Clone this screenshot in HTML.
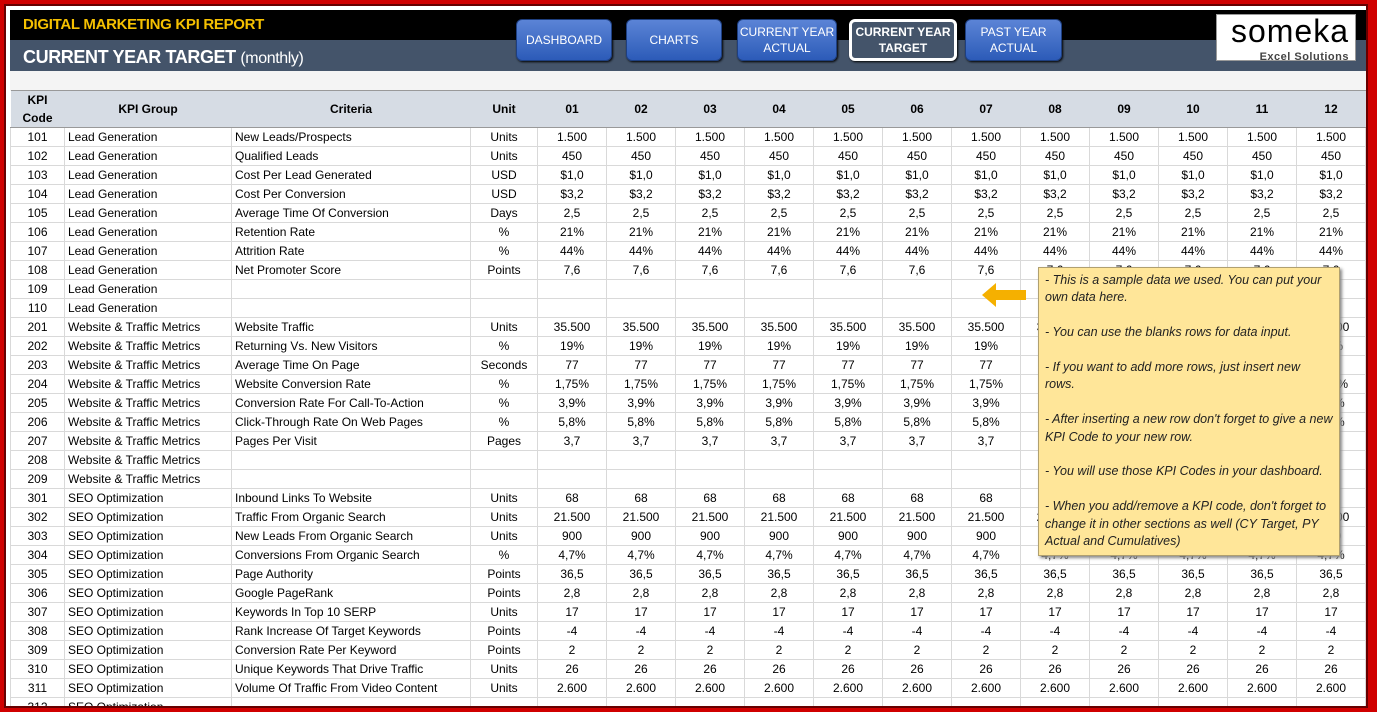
<!DOCTYPE html>
<html><head><meta charset="utf-8"><style>
*{margin:0;padding:0;box-sizing:border-box}
body{width:1377px;height:712px;overflow:hidden;background:#d00000;font-family:"Liberation Sans",sans-serif;position:relative}
#frame{position:absolute;left:4px;top:4px;width:1364px;height:704px;background:#fff;border:2px solid #600;overflow:hidden}
#blk{position:absolute;left:4px;top:4px;width:1356px;height:30px;background:#000}
#sl{position:absolute;left:4px;top:34px;width:1356px;height:31px;background:#44546a}
#t1{position:absolute;left:17px;top:10px;color:#f5c000;font-weight:bold;font-size:15px;letter-spacing:-0.3px}
#t2{position:absolute;left:17px;top:41px;color:#fff;font-weight:bold;font-size:18px;letter-spacing:-0.4px}
#t2 span{font-weight:normal;font-size:16px}
.btn{position:absolute;top:13px;height:42px;border-radius:6px;background:linear-gradient(#5b84d6,#2c5bb8);border:1px solid #1e3f80;color:#fff;font-size:12px;display:flex;align-items:center;justify-content:center;text-align:center;line-height:16px;box-shadow:1px 1px 2px #000}
#logo{position:absolute;left:1210px;top:8px;width:140px;height:47px;background:#fff;border:1px solid #999;text-align:right;padding-right:6px}
#logo b{display:block;font-size:32px;line-height:32px;font-weight:normal;letter-spacing:1px;color:#000}
#logo i{font-style:normal;font-weight:bold;font-size:11px;color:#444;letter-spacing:0.5px}
#gray{position:absolute;left:4px;top:65px;width:1356px;height:20px;background:#f4f4f4}
table{position:absolute;left:4px;top:84px;border-collapse:collapse;table-layout:fixed;font-size:12px;color:#000}
th{background:#d6dce4;height:37px;font-weight:bold;border-top:1px solid #999;border-bottom:1px solid #999;line-height:18px}
td{height:19px;border:1px solid #d9d9d9;white-space:nowrap;overflow:hidden;padding:0 3px;text-align:center;line-height:17px}
td.l{text-align:left}
#note{position:absolute;left:1032px;top:261px;width:302px;height:289px;background:#ffe699;border:1px solid #b0a070;box-shadow:2px 2px 3px #888;font-style:italic;font-size:12.5px;color:#222;padding:4px 6px;line-height:17.4px}
#arrow{position:absolute;left:974px;top:276px}
</style></head><body><div id="frame">
<div id="blk"></div><div id="sl"></div>
<div id="t1">DIGITAL MARKETING KPI REPORT</div>
<div id="t2">CURRENT YEAR TARGET <span>(monthly)</span></div>
<div class="btn" style="left:510px;width:96px">DASHBOARD</div>
<div class="btn" style="left:620px;width:96px">CHARTS</div>
<div class="btn" style="left:731px;width:100px">CURRENT YEAR<br>ACTUAL</div>
<div class="btn" style="left:843px;width:108px;background:#44546a;border:3px solid #fff;font-weight:bold">CURRENT YEAR<br>TARGET</div>
<div class="btn" style="left:959px;width:97px">PAST YEAR<br>ACTUAL</div>
<div id="logo"><b>someka</b><i>Excel Solutions</i></div>
<div id="gray"></div>
<table>
<colgroup><col style="width:54px"><col style="width:167px"><col style="width:239px"><col style="width:67px"><col span="12" style="width:69px"></colgroup>
<tr><th>KPI<br>Code</th><th>KPI Group</th><th>Criteria</th><th>Unit</th><th>01</th><th>02</th><th>03</th><th>04</th><th>05</th><th>06</th><th>07</th><th>08</th><th>09</th><th>10</th><th>11</th><th>12</th></tr>
<tr><td>101</td><td class="l">Lead Generation</td><td class="l">New Leads/Prospects</td><td>Units</td><td>1.500</td><td>1.500</td><td>1.500</td><td>1.500</td><td>1.500</td><td>1.500</td><td>1.500</td><td>1.500</td><td>1.500</td><td>1.500</td><td>1.500</td><td>1.500</td></tr>
<tr><td>102</td><td class="l">Lead Generation</td><td class="l">Qualified Leads</td><td>Units</td><td>450</td><td>450</td><td>450</td><td>450</td><td>450</td><td>450</td><td>450</td><td>450</td><td>450</td><td>450</td><td>450</td><td>450</td></tr>
<tr><td>103</td><td class="l">Lead Generation</td><td class="l">Cost Per Lead Generated</td><td>USD</td><td>$1,0</td><td>$1,0</td><td>$1,0</td><td>$1,0</td><td>$1,0</td><td>$1,0</td><td>$1,0</td><td>$1,0</td><td>$1,0</td><td>$1,0</td><td>$1,0</td><td>$1,0</td></tr>
<tr><td>104</td><td class="l">Lead Generation</td><td class="l">Cost Per Conversion</td><td>USD</td><td>$3,2</td><td>$3,2</td><td>$3,2</td><td>$3,2</td><td>$3,2</td><td>$3,2</td><td>$3,2</td><td>$3,2</td><td>$3,2</td><td>$3,2</td><td>$3,2</td><td>$3,2</td></tr>
<tr><td>105</td><td class="l">Lead Generation</td><td class="l">Average Time Of Conversion</td><td>Days</td><td>2,5</td><td>2,5</td><td>2,5</td><td>2,5</td><td>2,5</td><td>2,5</td><td>2,5</td><td>2,5</td><td>2,5</td><td>2,5</td><td>2,5</td><td>2,5</td></tr>
<tr><td>106</td><td class="l">Lead Generation</td><td class="l">Retention Rate</td><td>%</td><td>21%</td><td>21%</td><td>21%</td><td>21%</td><td>21%</td><td>21%</td><td>21%</td><td>21%</td><td>21%</td><td>21%</td><td>21%</td><td>21%</td></tr>
<tr><td>107</td><td class="l">Lead Generation</td><td class="l">Attrition Rate</td><td>%</td><td>44%</td><td>44%</td><td>44%</td><td>44%</td><td>44%</td><td>44%</td><td>44%</td><td>44%</td><td>44%</td><td>44%</td><td>44%</td><td>44%</td></tr>
<tr><td>108</td><td class="l">Lead Generation</td><td class="l">Net Promoter Score</td><td>Points</td><td>7,6</td><td>7,6</td><td>7,6</td><td>7,6</td><td>7,6</td><td>7,6</td><td>7,6</td><td>7,6</td><td>7,6</td><td>7,6</td><td>7,6</td><td>7,6</td></tr>
<tr><td>109</td><td class="l">Lead Generation</td><td></td><td></td><td></td><td></td><td></td><td></td><td></td><td></td><td></td><td></td><td></td><td></td><td></td><td></td></tr>
<tr><td>110</td><td class="l">Lead Generation</td><td></td><td></td><td></td><td></td><td></td><td></td><td></td><td></td><td></td><td></td><td></td><td></td><td></td><td></td></tr>
<tr><td>201</td><td class="l">Website &amp; Traffic Metrics</td><td class="l">Website Traffic</td><td>Units</td><td>35.500</td><td>35.500</td><td>35.500</td><td>35.500</td><td>35.500</td><td>35.500</td><td>35.500</td><td>35.500</td><td>35.500</td><td>35.500</td><td>35.500</td><td>35.500</td></tr>
<tr><td>202</td><td class="l">Website &amp; Traffic Metrics</td><td class="l">Returning Vs. New Visitors</td><td>%</td><td>19%</td><td>19%</td><td>19%</td><td>19%</td><td>19%</td><td>19%</td><td>19%</td><td>19%</td><td>19%</td><td>19%</td><td>19%</td><td>19%</td></tr>
<tr><td>203</td><td class="l">Website &amp; Traffic Metrics</td><td class="l">Average Time On Page</td><td>Seconds</td><td>77</td><td>77</td><td>77</td><td>77</td><td>77</td><td>77</td><td>77</td><td>77</td><td>77</td><td>77</td><td>77</td><td>77</td></tr>
<tr><td>204</td><td class="l">Website &amp; Traffic Metrics</td><td class="l">Website Conversion Rate</td><td>%</td><td>1,75%</td><td>1,75%</td><td>1,75%</td><td>1,75%</td><td>1,75%</td><td>1,75%</td><td>1,75%</td><td>1,75%</td><td>1,75%</td><td>1,75%</td><td>1,75%</td><td>1,75%</td></tr>
<tr><td>205</td><td class="l">Website &amp; Traffic Metrics</td><td class="l">Conversion Rate For Call-To-Action</td><td>%</td><td>3,9%</td><td>3,9%</td><td>3,9%</td><td>3,9%</td><td>3,9%</td><td>3,9%</td><td>3,9%</td><td>3,9%</td><td>3,9%</td><td>3,9%</td><td>3,9%</td><td>3,9%</td></tr>
<tr><td>206</td><td class="l">Website &amp; Traffic Metrics</td><td class="l">Click-Through Rate On Web Pages</td><td>%</td><td>5,8%</td><td>5,8%</td><td>5,8%</td><td>5,8%</td><td>5,8%</td><td>5,8%</td><td>5,8%</td><td>5,8%</td><td>5,8%</td><td>5,8%</td><td>5,8%</td><td>5,8%</td></tr>
<tr><td>207</td><td class="l">Website &amp; Traffic Metrics</td><td class="l">Pages Per Visit</td><td>Pages</td><td>3,7</td><td>3,7</td><td>3,7</td><td>3,7</td><td>3,7</td><td>3,7</td><td>3,7</td><td>3,7</td><td>3,7</td><td>3,7</td><td>3,7</td><td>3,7</td></tr>
<tr><td>208</td><td class="l">Website &amp; Traffic Metrics</td><td></td><td></td><td></td><td></td><td></td><td></td><td></td><td></td><td></td><td></td><td></td><td></td><td></td><td></td></tr>
<tr><td>209</td><td class="l">Website &amp; Traffic Metrics</td><td></td><td></td><td></td><td></td><td></td><td></td><td></td><td></td><td></td><td></td><td></td><td></td><td></td><td></td></tr>
<tr><td>301</td><td class="l">SEO Optimization</td><td class="l">Inbound Links To Website</td><td>Units</td><td>68</td><td>68</td><td>68</td><td>68</td><td>68</td><td>68</td><td>68</td><td>68</td><td>68</td><td>68</td><td>68</td><td>68</td></tr>
<tr><td>302</td><td class="l">SEO Optimization</td><td class="l">Traffic From Organic Search</td><td>Units</td><td>21.500</td><td>21.500</td><td>21.500</td><td>21.500</td><td>21.500</td><td>21.500</td><td>21.500</td><td>21.500</td><td>21.500</td><td>21.500</td><td>21.500</td><td>21.500</td></tr>
<tr><td>303</td><td class="l">SEO Optimization</td><td class="l">New Leads From Organic Search</td><td>Units</td><td>900</td><td>900</td><td>900</td><td>900</td><td>900</td><td>900</td><td>900</td><td>900</td><td>900</td><td>900</td><td>900</td><td>900</td></tr>
<tr><td>304</td><td class="l">SEO Optimization</td><td class="l">Conversions From Organic Search</td><td>%</td><td>4,7%</td><td>4,7%</td><td>4,7%</td><td>4,7%</td><td>4,7%</td><td>4,7%</td><td>4,7%</td><td>4,7%</td><td>4,7%</td><td>4,7%</td><td>4,7%</td><td>4,7%</td></tr>
<tr><td>305</td><td class="l">SEO Optimization</td><td class="l">Page Authority</td><td>Points</td><td>36,5</td><td>36,5</td><td>36,5</td><td>36,5</td><td>36,5</td><td>36,5</td><td>36,5</td><td>36,5</td><td>36,5</td><td>36,5</td><td>36,5</td><td>36,5</td></tr>
<tr><td>306</td><td class="l">SEO Optimization</td><td class="l">Google PageRank</td><td>Points</td><td>2,8</td><td>2,8</td><td>2,8</td><td>2,8</td><td>2,8</td><td>2,8</td><td>2,8</td><td>2,8</td><td>2,8</td><td>2,8</td><td>2,8</td><td>2,8</td></tr>
<tr><td>307</td><td class="l">SEO Optimization</td><td class="l">Keywords In Top 10 SERP</td><td>Units</td><td>17</td><td>17</td><td>17</td><td>17</td><td>17</td><td>17</td><td>17</td><td>17</td><td>17</td><td>17</td><td>17</td><td>17</td></tr>
<tr><td>308</td><td class="l">SEO Optimization</td><td class="l">Rank Increase Of Target Keywords</td><td>Points</td><td>-4</td><td>-4</td><td>-4</td><td>-4</td><td>-4</td><td>-4</td><td>-4</td><td>-4</td><td>-4</td><td>-4</td><td>-4</td><td>-4</td></tr>
<tr><td>309</td><td class="l">SEO Optimization</td><td class="l">Conversion Rate Per Keyword</td><td>Points</td><td>2</td><td>2</td><td>2</td><td>2</td><td>2</td><td>2</td><td>2</td><td>2</td><td>2</td><td>2</td><td>2</td><td>2</td></tr>
<tr><td>310</td><td class="l">SEO Optimization</td><td class="l">Unique Keywords That Drive Traffic</td><td>Units</td><td>26</td><td>26</td><td>26</td><td>26</td><td>26</td><td>26</td><td>26</td><td>26</td><td>26</td><td>26</td><td>26</td><td>26</td></tr>
<tr><td>311</td><td class="l">SEO Optimization</td><td class="l">Volume Of Traffic From Video Content</td><td>Units</td><td>2.600</td><td>2.600</td><td>2.600</td><td>2.600</td><td>2.600</td><td>2.600</td><td>2.600</td><td>2.600</td><td>2.600</td><td>2.600</td><td>2.600</td><td>2.600</td></tr>
<tr><td>312</td><td class="l">SEO Optimization</td><td></td><td></td><td></td><td></td><td></td><td></td><td></td><td></td><td></td><td></td><td></td><td></td><td></td><td></td></tr>
</table>
<svg id="arrow" width="48" height="26"><polygon points="2,13 16,1 16,8 46,8 46,18 16,18 16,25" fill="#f5b000"/></svg>
<div id="note">- This is a sample data we used. You can put your own data here.<br><br>- You can use the blanks rows for data input.<br><br>- If you want to add more rows, just insert new rows.<br><br>- After inserting a new row don't forget to give a new KPI Code to your new row.<br><br>- You will use those KPI Codes in your dashboard.<br><br>- When you add/remove a KPI code, don't forget to change it in other sections as well (CY Target, PY Actual and Cumulatives)</div>
</div></body></html>
